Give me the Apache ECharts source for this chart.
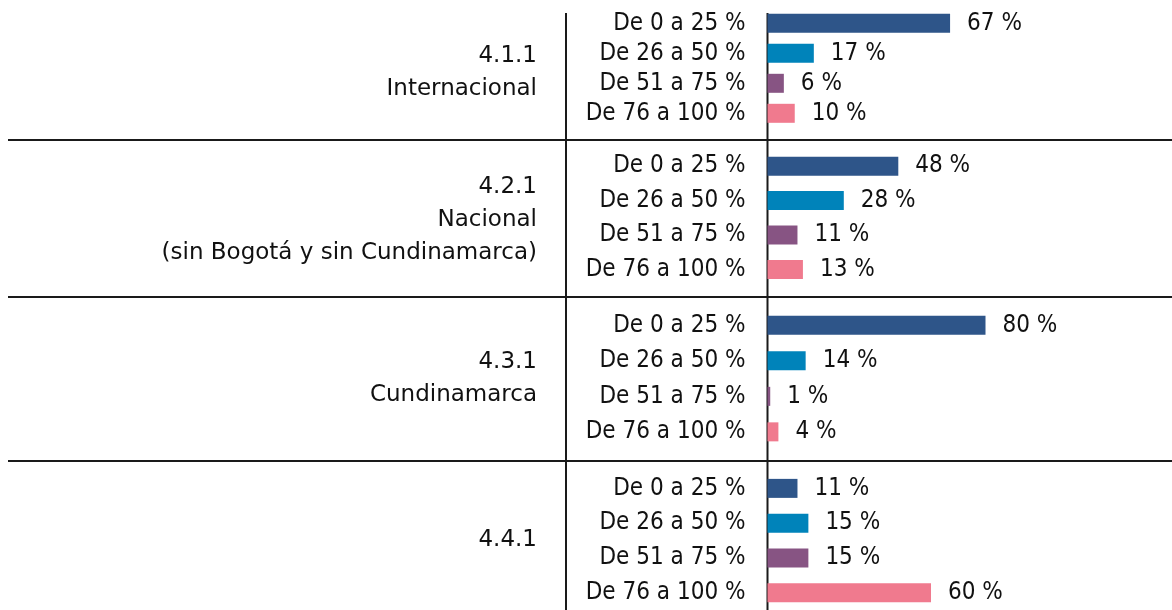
<!DOCTYPE html>
<html>
<head>
<meta charset="utf-8">
<script src="https://cdn.jsdelivr.net/npm/echarts@6/dist/echarts.min.js"></script>
<style>
  html, body { margin: 0; padding: 0; background: #fff; }
  #chart { width: 1172px; height: 610px; }
</style>
</head>
<body>
<div id="chart"></div>
<script>
'use strict';

// rangos de porcentaje (eje de categorias)
var ranges = ['De 0 a 25 %', 'De 26 a 50 %', 'De 51 a 75 %', 'De 76 a 100 %'];
// etiquetas de cada grupo
var groupLabels = [
    '4.1.1\nInternacional',
    '4.2.1\nNacional\n(sin Bogotá y sin Cundinamarca)',
    '4.3.1\nCundinamarca',
    '4.4.1'
];
// valores por grupo
var internacional = [67, 17, 6, 10];
var nacional = [48, 28, 11, 13];
var cundinamarca = [80, 14, 1, 4];
var grupo441 = [11, 15, 15, 60];

var colors = ['#2E5589', '#0083BA', '#875483', '#F07A8E'];
var fontFam = '"DejaVu Sans Condensed", "DejaVu Sans", sans-serif';
var fontSize = 24;
var txtColor = '#111';

var allValues = [internacional, nacional, cundinamarca, grupo441];
// posicion de cada bloque (top, height) y centro de la etiqueta del grupo
var grids = [
    { top: 8.3, height: 120, labelY: 72.5 },
    { top: 149, height: 137.6, labelY: 220 },
    { top: 307.6, height: 142, labelY: 378.5 },
    { top: 471, height: 145, labelY: 540 }
];
var axisX = 767.5;
var plotW = 272.5;

var option = {
    backgroundColor: '#fff',
    animation: false,
    grid: [],
    xAxis: [],
    yAxis: [],
    series: [],
    graphic: []
};

for (var i = 0; i < grids.length; i++) {
    option.grid.push({
        left: axisX, width: plotW, top: grids[i].top, height: grids[i].height,
        containLabel: false
    });
    option.xAxis.push({
        type: 'value', gridIndex: i, min: 0, max: 100, show: false
    });
    option.yAxis.push({
        type: 'category', gridIndex: i, inverse: true, data: ranges,
        axisLine: { show: false },
        axisTick: { show: false },
        splitLine: { show: false },
        axisLabel: {
            interval: 0,
            margin: 22, fontSize: fontSize, fontFamily: fontFam, color: txtColor
        }
    });
    option.series.push({
        type: 'bar',
        xAxisIndex: i,
        yAxisIndex: i,
        barWidth: 19,
        data: allValues[i],
        itemStyle: {
            color: function (p) { return colors[p.dataIndex]; }
        },
        label: {
            show: true,
            position: 'right',
            distance: 17,
            formatter: '{c} %',
            fontSize: fontSize,
            fontFamily: fontFam,
            color: txtColor
        }
    });
    // etiqueta del grupo
    option.graphic.push({
        type: 'text',
        x: 537,
        y: grids[i].labelY,
        style: {
            text: groupLabels[i],
            fill: txtColor,
            fontSize: 23,
            fontFamily: '"DejaVu Sans", sans-serif',
            lineHeight: 33,
            align: 'right',
            verticalAlign: 'middle',
            textAlign: 'right',
            textVerticalAlign: 'middle'
        }
    });
}

// lineas separadoras
var sepY = [140, 297, 461];
sepY.forEach(function (y) {
    option.graphic.push({
        type: 'line',
        shape: { x1: 8, y1: y, x2: 1172, y2: y },
        style: { stroke: '#1a1a1a', lineWidth: 2 }
    });
});
[566, axisX].forEach(function (x) {
    option.graphic.push({
        type: 'line',
        shape: { x1: x, y1: 13, x2: x, y2: 610 },
        style: { stroke: '#1a1a1a', lineWidth: 2 }
    });
});

var chart = echarts.init(document.getElementById('chart'), null, { renderer: 'canvas' });
chart.setOption(option);
</script>
</body>
</html>
